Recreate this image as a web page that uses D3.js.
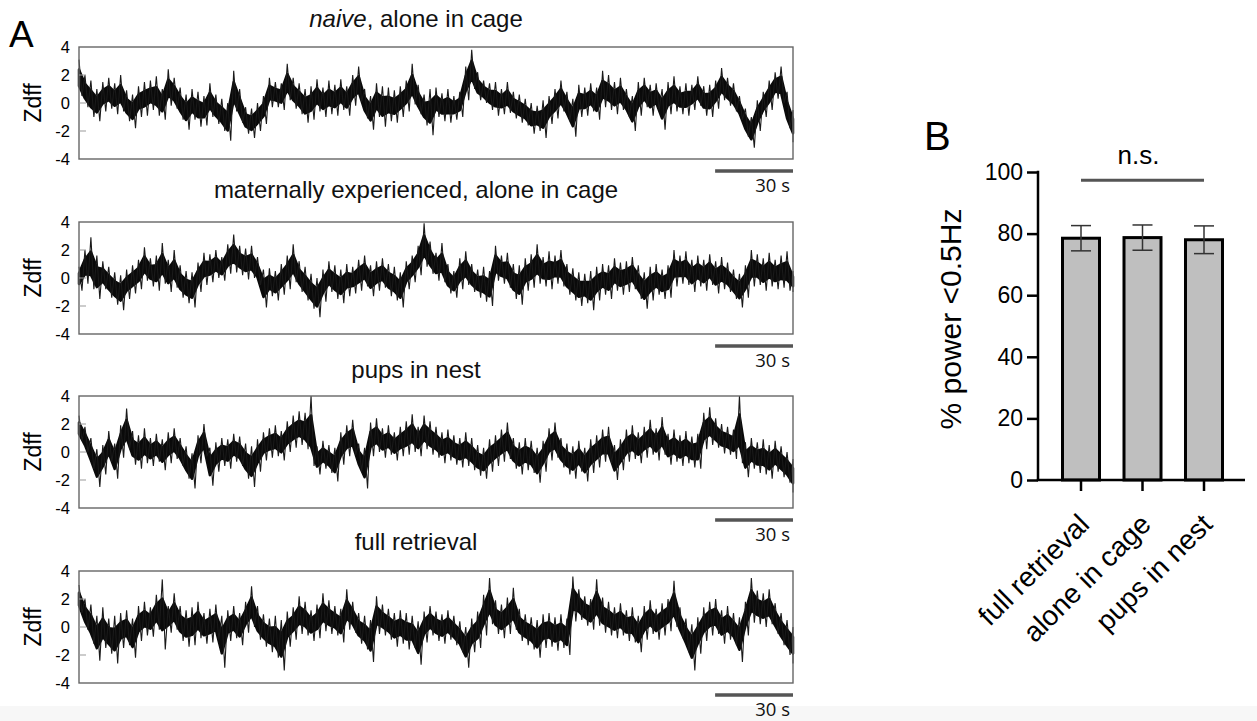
<!DOCTYPE html>
<html><head><meta charset="utf-8">
<script src="https://cdn.jsdelivr.net/npm/d3@7"></script>
<style>body{margin:0;background:#fff} svg{display:block}</style>
</head><body><svg id="c" width="1257" height="721"></svg>
<script>
// ---------- DATA ----------
// Panel A: per-bin upper / lower excursion of each Zdff trace
const naiveHi = [3.1,2.0,1.6,1.0,1.5,1.8,1.4,2.0,0.9,0.6,1.2,1.5,1.6,1.9,1.0,2.4,1.8,1.1,0.6,1.0,0.8,0.5,1.4,0.6,0.3,0.0,2.3,1.0,-0.3,-0.4,0.0,0.5,1.8,1.5,1.4,2.8,1.8,1.4,1.0,1.2,1.7,1.1,1.6,1.3,1.7,1.2,2.0,2.6,1.0,0.5,1.4,1.2,1.1,0.9,1.2,1.6,2.8,1.3,0.6,1.0,1.1,0.7,1.0,0.5,0.8,2.6,3.8,2.2,1.6,1.4,1.5,1.0,1.5,0.8,0.6,0.3,0.0,-0.2,0.2,0.5,1.0,1.6,0.8,0.3,1.3,1.1,1.4,1.1,2.3,2.0,1.5,1.8,1.0,0.5,1.5,1.8,1.3,1.4,1.0,1.5,1.9,1.2,1.4,1.3,1.9,1.2,1.3,1.6,2.5,1.8,1.4,0.5,-0.4,-1.0,0.2,0.8,1.6,2.2,2.6,0.8,-0.5];
const naiveLo = [0.5,-0.3,-1.0,-1.3,-0.6,-0.4,-0.8,-0.6,-1.3,-1.8,-1.0,-0.9,-0.5,-0.9,-1.2,-0.2,-0.4,-1.2,-1.9,-1.2,-1.7,-1.6,-1.0,-1.5,-2.0,-2.7,-0.6,-1.4,-2.2,-2.5,-2.0,-1.5,-0.3,-0.3,-0.5,0.2,-0.4,-0.8,-1.4,-1.2,-0.6,-1.0,-0.8,-0.9,-0.5,-0.9,-0.2,0.1,-1.1,-1.9,-1.0,-1.7,-1.3,-1.4,-1.0,-0.6,-0.1,-0.8,-1.6,-2.3,-1.0,-1.3,-1.4,-1.2,-1.0,0.2,1.0,0.2,0.0,-0.5,-0.9,-0.8,-0.7,-1.1,-1.4,-1.6,-2.2,-2.0,-2.5,-1.5,-1.1,-0.6,-1.3,-2.4,-1.0,-0.9,-0.6,-1.2,-0.3,-0.5,-0.8,-0.5,-1.0,-2.0,-0.9,-0.3,-0.9,-0.5,-1.9,-0.8,-0.6,-0.8,-0.9,-0.5,-0.2,-0.9,-1.0,-0.4,0.2,-0.2,-0.6,-1.2,-2.4,-3.2,-2.0,-1.0,-0.5,0.3,0.0,-1.8,-2.8];

const maternalHi = [0.8,2.0,2.9,1.6,1.2,0.8,0.4,0.2,0.6,0.9,1.3,2.2,1.4,1.6,2.5,1.3,2.0,0.9,0.5,0.4,1.1,1.8,1.7,2.0,1.5,2.4,3.1,2.3,2.1,2.3,1.5,0.6,0.7,0.5,1.0,1.6,2.4,1.2,0.8,0.3,0.0,0.6,1.2,0.9,0.6,1.0,0.8,1.3,1.6,0.9,1.2,1.4,1.0,0.8,0.4,1.2,1.6,2.3,3.9,2.6,1.8,2.5,1.0,0.5,1.4,1.9,1.0,0.6,0.8,0.5,2.3,1.6,1.8,1.0,0.9,1.4,1.7,2.4,1.5,1.9,1.6,2.0,1.0,0.7,0.4,0.3,0.5,0.8,1.0,0.9,1.4,1.1,1.2,1.5,0.9,0.4,0.8,1.0,0.6,0.9,2.0,1.6,1.9,1.3,1.6,1.3,1.7,1.2,1.5,1.1,0.6,0.3,0.9,2.0,1.7,1.4,1.8,1.3,1.6,1.9,0.5];
const maternalLo = [-0.9,-0.4,-0.8,-1.5,-0.8,-1.4,-1.9,-2.3,-1.5,-1.1,-0.8,-0.2,-0.6,-0.9,-0.4,-1.0,-0.7,-1.4,-1.8,-2.1,-1.0,-0.5,-0.3,0.0,-0.2,0.3,0.4,0.2,-0.1,0.0,-0.5,-2.1,-1.3,-1.6,-1.2,-0.8,-0.3,-1.0,-1.6,-2.2,-2.8,-1.7,-1.0,-1.5,-1.8,-1.3,-1.1,-0.9,-0.6,-1.3,-0.9,-0.7,-1.3,-1.6,-2.1,-0.8,-0.3,0.2,0.8,0.3,-0.2,-0.3,-1.1,-1.4,-0.8,-0.5,-1.0,-1.4,-1.7,-2.0,-0.2,-0.4,-0.7,-1.5,-1.9,-0.9,-0.7,-0.4,-0.6,-0.8,-0.4,-0.6,-1.2,-1.6,-2.0,-1.8,-2.3,-1.6,-1.2,-1.5,-0.9,-1.2,-1.0,-0.8,-1.5,-2.2,-1.6,-1.2,-1.5,-1.4,-0.6,-0.4,-0.5,-1.0,-0.6,-0.9,-0.5,-1.1,-0.8,-1.0,-1.5,-2.1,-1.4,-0.6,-0.5,-0.9,-0.6,-0.8,-0.7,-0.9,-1.0];

const nestHi = [2.6,1.8,1.0,0.2,0.5,1.5,0.6,1.9,3.1,1.5,1.2,1.7,1.0,1.3,0.9,1.4,1.7,1.0,0.4,-0.1,1.2,2.0,0.3,0.7,1.0,0.9,1.3,1.1,0.6,0.4,0.9,1.4,1.7,1.9,1.5,2.2,2.6,2.9,2.8,4.0,0.4,0.8,0.5,0.3,1.4,1.9,2.3,0.6,0.3,2.1,2.4,1.7,1.9,1.4,1.8,2.2,2.7,1.8,2.6,2.2,1.8,1.4,1.6,1.2,1.0,1.4,1.0,0.5,0.3,0.9,1.2,1.6,2.1,1.0,0.7,1.0,0.8,0.3,0.8,1.7,2.1,1.0,0.6,0.4,0.8,0.3,0.9,1.2,1.6,1.8,0.5,0.9,1.6,1.9,1.4,1.8,2.3,1.7,2.5,1.3,1.6,1.2,1.5,1.1,1.3,2.8,3.2,2.4,2.0,1.8,1.6,4.0,0.7,1.0,0.7,0.9,0.5,0.8,0.4,0.0,-0.5];
const nestLo = [0.8,0.0,-1.2,-2.5,-1.6,-0.7,-1.9,-0.4,0.2,-0.9,-1.2,-0.8,-1.0,-0.7,-1.3,-0.8,-0.5,-1.0,-1.9,-2.6,-0.8,-0.3,-2.4,-1.4,-1.0,-1.2,-0.7,-1.0,-1.9,-2.5,-1.4,-0.6,-0.4,-0.3,-0.6,0.0,0.3,0.5,0.2,-1.0,-1.6,-1.2,-1.5,-2.1,-0.9,-0.3,-0.2,-1.4,-2.6,-0.3,0.0,-0.4,-0.2,-0.6,-0.3,-0.2,0.0,-0.3,0.2,-0.2,-0.4,-0.8,-0.6,-0.9,-1.1,-1.0,-1.3,-1.7,-1.9,-1.4,-1.0,-0.7,-0.5,-1.2,-1.6,-1.3,-1.5,-2.2,-1.4,-0.6,-0.4,-1.1,-1.6,-1.9,-1.4,-2.1,-1.5,-1.1,-0.7,-0.8,-2.0,-1.3,-0.7,-0.5,-0.8,-0.4,-0.2,-0.6,-0.2,-0.9,-0.7,-1.0,-0.8,-1.1,-1.2,0.2,0.5,0.3,-0.1,-0.2,-0.5,-0.8,-1.8,-1.2,-1.5,-1.6,-1.9,-1.4,-1.8,-2.2,-2.9];

const retrievalHi = [3.0,2.0,1.6,0.8,1.4,0.6,0.8,1.0,1.2,0.6,1.5,1.8,1.4,2.3,3.4,1.5,2.4,1.5,1.2,1.4,1.8,1.0,1.3,1.6,0.8,1.2,1.5,1.0,1.8,2.9,1.5,0.9,0.6,0.8,0.5,1.1,1.4,2.2,1.8,1.2,1.6,2.4,1.9,1.5,1.3,2.7,1.8,1.0,0.8,0.5,2.2,1.6,1.3,1.0,1.2,1.0,0.8,0.4,1.1,1.5,1.1,0.9,1.2,0.8,0.4,0.0,0.6,1.1,2.3,3.5,1.9,1.6,2.1,2.8,1.3,0.9,0.7,0.5,0.9,1.0,0.7,0.9,0.6,3.6,2.7,2.2,2.0,3.4,2.1,1.8,1.4,1.7,1.2,1.4,0.8,1.5,1.9,1.3,1.7,2.0,3.3,1.4,0.6,0.2,0.7,1.4,1.8,2.0,1.2,1.5,1.0,0.7,1.8,3.5,2.6,2.4,2.7,1.7,1.0,0.5,0.0];
const retrievalLo = [1.0,-0.2,-1.2,-2.4,-1.5,-1.9,-2.6,-1.5,-1.3,-2.2,-1.0,-0.6,-0.7,-0.2,-1.6,-0.4,-0.2,-1.0,-1.4,-1.3,-0.8,-1.2,-1.1,-0.9,-2.9,-1.0,-0.8,-1.3,-0.4,0.0,-0.9,-1.4,-1.8,-2.2,-3.1,-1.4,-0.9,-0.5,-0.6,-1.0,-0.8,-0.3,-0.5,-0.6,-1.1,-0.2,-0.4,-1.2,-1.6,-2.5,-0.5,-0.6,-0.9,-1.4,-1.2,-1.6,-1.5,-2.7,-1.1,-0.6,-1.0,-1.2,-0.9,-1.3,-1.8,-2.9,-1.8,-1.5,-0.6,0.2,-0.5,-0.8,-0.5,-0.2,-1.0,-1.3,-1.6,-2.2,-1.5,-1.4,-1.7,-1.5,-2.0,0.4,0.5,0.1,-0.2,0.1,-0.4,-0.6,-0.8,-0.6,-1.0,-1.1,-1.8,-0.9,-0.5,-0.9,-0.6,-0.3,0.0,-0.8,-1.8,-3.1,-1.9,-1.0,-0.6,-0.5,-1.2,-0.9,-1.3,-2.5,-0.6,0.3,0.2,0.0,0.2,-0.5,-1.3,-2.0,-2.6];

const traceTitles = [
  [{t:"naive", i:true}, {t:", alone in cage"}],
  [{t:"maternally experienced, alone in cage"}],
  [{t:"pups in nest"}],
  [{t:"full retrieval"}]
];
const zTicks = [4, 2, 0, -2, -4];
const traceSeconds = 275;      // full width of each trace
const scaleBarSeconds = 30;

// Panel B
const barCategories = ["full retrieval", "alone in cage", "pups in nest"];
const barMeans = [78.5, 78.7, 78.0];
const barSEM = [4.1, 4.1, 4.5];
const powerTicks = [0, 20, 40, 60, 80, 100];

// ---------- DRAW ----------
const svg = d3.select("#c");
svg.append("rect").attr("x",0).attr("y",0).attr("width",1257).attr("height",721).attr("fill","#fff");
svg.append("rect").attr("x",0).attr("y",706).attr("width",1257).attr("height",15).attr("fill","#f7f7f7");

const SANS = "Liberation Sans, Arial, Helvetica, sans-serif";
const TITLE = "Open Sans, Noto Sans, sans-serif";

const traces = [[naiveHi,naiveLo],[maternalHi,maternalLo],[nestHi,nestLo],[retrievalHi,retrievalLo]];
const left = 79, right = 793, ph = 112, tops = [47, 222, 396, 571];
const titleBaselines = [27, 198, 378, 550];
const coreShare = 0.45;   // part of each excursion drawn as solid core

svg.append("text").text("A").attr("x",9).attr("y",47)
  .attr("font-family",SANS).attr("font-size",37).attr("fill","#000");

const x = d3.scaleLinear().domain([0, traceSeconds]).range([left, right]);

traces.forEach((tr, k) => {
  const top = tops[k];
  const y = d3.scaleLinear().domain([-4, 4]).range([top+ph, top]);
  const g = svg.append("g");
  const [hi, lo] = tr;
  const n = hi.length;
  const dt = traceSeconds/(n-1);
  const pts = [];
  hi.forEach((v,i) => {
    pts.push([i*dt, v]);
    pts.push([Math.min(traceSeconds, i*dt + dt/2), lo[i]]);
  });
  const core = hi.map((v,i)=>{
    const m = (v+lo[i])/2;
    return {t:i*dt, a:m+(v-m)*coreShare, b:m+(lo[i]-m)*coreShare};
  });
  const line = d3.line().x(d=>x(d[0])).y(d=>y(d[1]));
  // dense core of the trace
  g.append("path").datum(core)
    .attr("d", d3.area().x(d=>x(d.t)).y0(d=>y(d.b)).y1(d=>y(d.a)))
    .attr("fill","#0a0a0a").attr("stroke","#0a0a0a").attr("stroke-width",2.5).attr("stroke-linejoin","round");
  // fast excursions
  g.append("path").datum(pts).attr("d", line)
    .attr("fill","none").attr("stroke","#1a1a1a").attr("stroke-width",1.1)
    .attr("stroke-linejoin","miter").attr("stroke-miterlimit",2);

  // frame
  g.append("rect").attr("x",left).attr("y",top).attr("width",right-left).attr("height",ph)
    .attr("fill","none").attr("stroke","#666").attr("stroke-width",1.4);
  // inner ticks
  zTicks.filter(t=>t>-4 && t<4).forEach(t=>{
    g.append("line").attr("x1",left).attr("x2",left+7).attr("y1",y(t)).attr("y2",y(t))
      .attr("stroke","#999").attr("stroke-width",1);
  });
  // tick labels
  g.selectAll("text.tl").data(zTicks).enter().append("text")
    .attr("x",70).attr("y",d=>y(d)).attr("dy","0.36em").attr("text-anchor","end")
    .attr("font-family",SANS).attr("font-size",16.5).attr("fill","#000").text(d=>d);
  // axis label
  g.append("text").attr("transform",`translate(41,${y(0)}) rotate(-90)`)
    .attr("text-anchor","middle").attr("font-family",SANS).attr("font-size",23).text("Zdff");
  // title
  const tt = g.append("text").attr("x",416).attr("y",titleBaselines[k])
    .attr("text-anchor","middle").attr("font-family",SANS).attr("font-size",24).attr("fill","#111");
  traceTitles[k].forEach(s => tt.append("tspan").attr("font-style", s.i ? "italic":"normal").text(s.t));
  // scale bar
  g.append("line").attr("x1",x(traceSeconds - scaleBarSeconds)).attr("x2",x(traceSeconds))
    .attr("y1",top+ph+12).attr("y2",top+ph+12).attr("stroke","#555").attr("stroke-width",3.5);
  g.append("text").attr("x",right-3).attr("y",top+ph+33).attr("text-anchor","end")
    .attr("font-family",TITLE).attr("font-size",18.5).attr("fill","#111").text(scaleBarSeconds+" s");
});

// ---------- Panel B ----------
svg.append("text").text("B").attr("x",924).attr("y",150)
  .attr("font-family",SANS).attr("font-size",40).attr("fill","#000");

const bx0 = 1038, bx1 = 1245, by0 = 480, by1 = 172;
const yB = d3.scaleLinear().domain([0,100]).range([by0, by1]);
const xB = d3.scalePoint().domain(barCategories).range([1081, 1204]);
const gB = svg.append("g");

// bars
gB.selectAll("rect.bar").data(barCategories).enter().append("rect")
  .attr("x", d=>xB(d)-18.5).attr("width",37)
  .attr("y", (d,i)=>yB(barMeans[i])).attr("height",(d,i)=>by0-yB(barMeans[i]))
  .attr("fill","#bfbfbf").attr("stroke","#000").attr("stroke-width",3);

// error bars
barCategories.forEach((c,i)=>{
  const cx = xB(c);
  const t = yB(barMeans[i]+barSEM[i]), b = yB(barMeans[i]-barSEM[i]);
  gB.append("line").attr("x1",cx).attr("x2",cx).attr("y1",t).attr("y2",b).attr("stroke","#333").attr("stroke-width",1.5);
  [t,b].forEach(yy=>gB.append("line").attr("x1",cx-10).attr("x2",cx+10).attr("y1",yy).attr("y2",yy).attr("stroke","#333").attr("stroke-width",1.5));
});

// y axis
const yAxis = d3.axisLeft(yB).tickValues(powerTicks).tickSize(11).tickPadding(4);
const ga = gB.append("g").attr("transform",`translate(${bx0},0)`).call(yAxis);
ga.select(".domain").attr("stroke","#000").attr("stroke-width",2.5).attr("d",`M0,${by1-1.2}V${by0}`);
ga.selectAll(".tick line").attr("stroke","#000").attr("stroke-width",2.5);
ga.selectAll(".tick text").attr("font-family",SANS).attr("font-size",23).attr("fill","#000");

// x axis
gB.append("line").attr("x1",bx0-1.2).attr("x2",bx1).attr("y1",by0).attr("y2",by0).attr("stroke","#000").attr("stroke-width",2.5);
barCategories.forEach(c=>{
  const cx = xB(c);
  gB.append("line").attr("x1",cx).attr("x2",cx).attr("y1",by0).attr("y2",by0+11).attr("stroke","#000").attr("stroke-width",2.5);
  gB.append("text").attr("transform",`translate(${cx+10},${by0+46}) rotate(-45)`)
    .attr("text-anchor","end").attr("font-family",SANS).attr("font-size",28).attr("fill","#000").text(c);
});

// y label
gB.append("text").attr("transform",`translate(961,319) rotate(-90)`)
  .attr("text-anchor","middle").attr("font-family",SANS).attr("font-size",30).attr("fill","#000").text("% power <0.5Hz");

// significance
const c0 = xB(barCategories[0]), c2 = xB(barCategories[2]);
gB.append("line").attr("x1",c0).attr("x2",c2).attr("y1",yB(97.3)).attr("y2",yB(97.3)).attr("stroke","#555").attr("stroke-width",3);
gB.append("text").attr("x",(c0+c2)/2-4).attr("y",yB(102.6)).attr("text-anchor","middle")
  .attr("font-family",SANS).attr("font-size",26).attr("fill","#000").text("n.s.");
</script></body></html>
